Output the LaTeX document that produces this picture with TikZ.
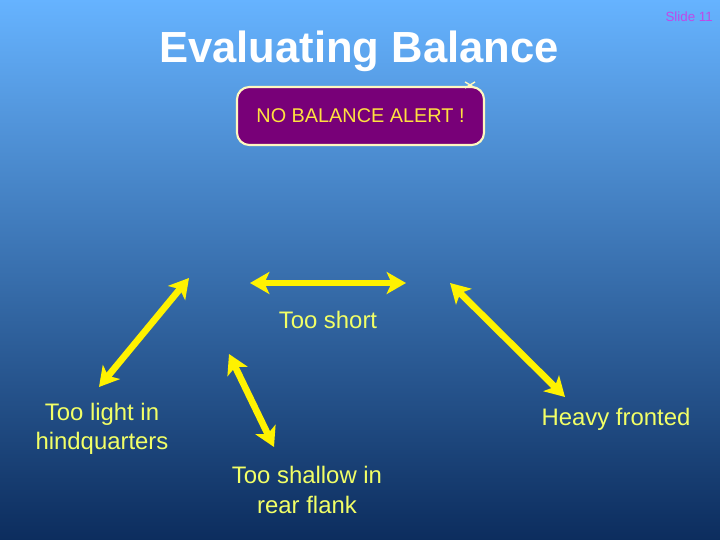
\documentclass[tikz,border=0pt]{standalone}
\usepackage{fontspec}
\setmainfont{Liberation Sans}
\usetikzlibrary{arrows.meta, positioning, calc}
\definecolor{skytop}{HTML}{66B3FF}
\definecolor{skymid}{HTML}{4682CA}
\definecolor{skybot}{HTML}{0C2D5E}
\definecolor{labelyellow}{HTML}{F2FF66}
\definecolor{alertpurple}{HTML}{780078}
\definecolor{alertedge}{HTML}{FFF8C0}
\definecolor{alerttext}{HTML}{FFE040}
\definecolor{slidepink}{HTML}{C048E8}
\tikzset{
    title/.style={font=\bfseries\fontsize{24.8}{28}\selectfont, text=white},
    label/.style={font=\fontsize{13.6}{16.6}\selectfont, text=labelyellow, align=center},
    alert/.style={rectangle, draw=alertedge, line width=1.2pt, rounded corners=7pt, fill=alertpurple,
        text=alerttext, font=\fontsize{11.3}{13}\selectfont, minimum width=247*0.02cm, minimum height=58*0.02cm},
    arrow/.style={draw=yellow, line width=3.8pt, {Stealth[length=11pt, width=12.5pt, inset=2.8pt]}-{Stealth[length=11pt, width=12.5pt, inset=2.8pt]}}
}

\begin{document}
\begin{tikzpicture}[x=0.02cm, y=-0.02cm]
    \useasboundingbox (0,0) rectangle (720,540);
    \shade[top color=skytop, middle color=skymid, bottom color=skybot] (0,0) rectangle (720,540);

    \node[title] (heading) at (359,51) {Evaluating Balance};
    \node[anchor=east, font=\fontsize{7.6}{9}\selectfont, text=slidepink] (slideno) at (719,17) {Slide 11};
    \node[alert] (alertbox) at (360.5,116) {NO BALANCE ALERT !};
    \draw[alertedge, line width=0.8pt] ($(alertbox.north east)+(-20,-4)$) -- ++(10,6) ($(alertbox.north east)+(-20,2)$) -- ++(10,-6);

    \node[label] (short) at (328,320) {Too short};
    \node[label] (light) at (102,429) {Too light in\\hindquarters};
    \node[label] (heavy) at (616,419) {Heavy fronted};
    \node[label] (shallow) at (307,490) {Too shallow in\\rear flank};

    % arrow ends
    \coordinate (lightA) at (99,387);
    \coordinate (lightB) at (189,278);
    \coordinate (shortA) at (250,283);
    \coordinate (shortB) at (406,283);
    \coordinate (shallowA) at (229,354);
    \coordinate (shallowB) at (274,447);
    \coordinate (heavyA) at (450,283);
    \coordinate (heavyB) at (565,397);

    \draw[arrow] (lightA) -- (lightB);
    \draw[arrow] (shortA) -- (shortB);
    \draw[arrow] (shallowA) -- (shallowB);
    \draw[arrow] (heavyA) -- (heavyB);
\end{tikzpicture}
\end{document}
